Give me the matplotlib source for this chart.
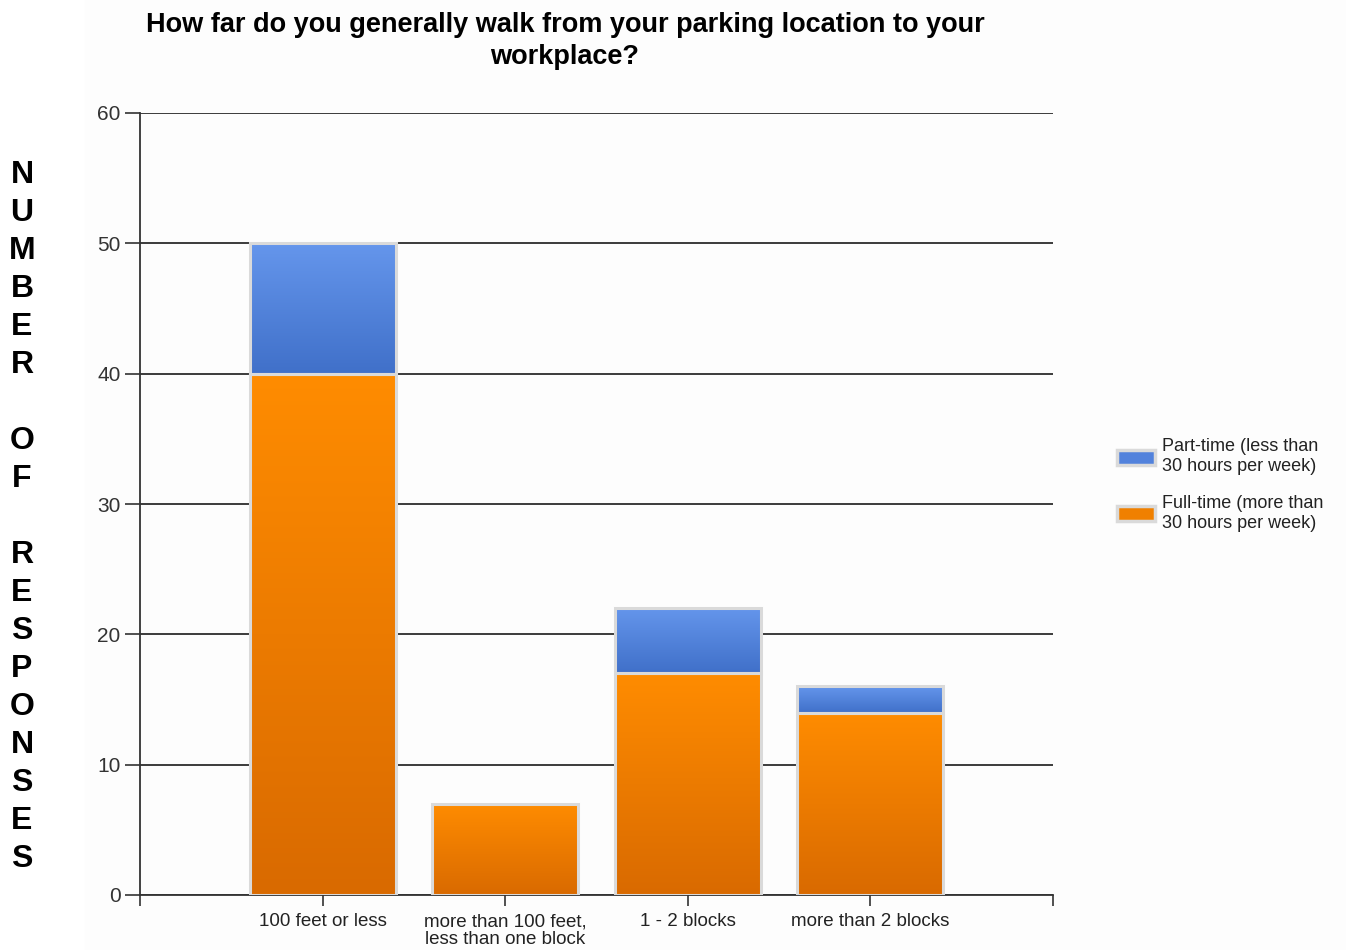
import numpy as np
import matplotlib.pyplot as plt
from matplotlib.colors import LinearSegmentedColormap
from matplotlib.patches import Patch, Rectangle

# data
CATEGORIES = ["100 feet or less", "more than 100 feet,\nless than one block",
              "1 - 2 blocks", "more than 2 blocks"]
FULL_TIME = [40, 7, 17, 14]
PART_TIME = [10, 0, 5, 2]
SERIES_NAMES = ["Part-time (less than\n30 hours per week)",
                "Full-time (more than\n30 hours per week)"]
YLABEL = "NUMBER OF RESPONSES"

plt.rcParams["font.family"] = ["Liberation Sans", "DejaVu Sans"]

ORANGE = ("#d96a00", "#ff8c00")   # bottom, top
BLUE = ("#4070c9", "#6596ec")
EDGE = "#dadada"

fig = plt.figure(figsize=(13.46, 9.5), dpi=100)
fig.patch.set_facecolor("white")
fig.patches.append(Rectangle((85 / 1346, 0), 1, 1, transform=fig.transFigure,
                             color="#fdfdfd", zorder=-10))

ax = fig.add_axes([140 / 1346, 1 - 895 / 950, 913 / 1346, 782 / 950])
ax.set_facecolor("none")

x = np.arange(len(CATEGORIES))
w = 0.8


def grad_bar(xc, bottom, height, cols):
    if height <= 0:
        return
    cmap = LinearSegmentedColormap.from_list("g", cols)
    g = np.linspace(0, 1, 256).reshape(-1, 1)
    ax.imshow(g, cmap=cmap, origin="lower", aspect="auto", zorder=2,
              extent=(xc - w / 2, xc + w / 2, bottom, bottom + height),
              interpolation="bilinear")


for xi, f, p in zip(x, FULL_TIME, PART_TIME):
    grad_bar(xi, 0, f, ORANGE)
    grad_bar(xi, f, p, BLUE)

ax.bar(x, FULL_TIME, width=w, color="none", edgecolor=EDGE, linewidth=2.2, zorder=3)
ax.bar(x, PART_TIME, bottom=FULL_TIME, width=w, color="none",
       edgecolor=[EDGE if v > 0 else "none" for v in PART_TIME],
       linewidth=2.2, zorder=3)

ax.set_xlim(-1, 4)
ax.set_ylim(0, 60)
ax.set_yticks(range(0, 61, 10))
ax.set_xticks(x)
ax.set_xticklabels(CATEGORIES, linespacing=1.05)
ax.set_xticks([-1, 4], minor=True)

ax.yaxis.grid(True, color="#1a1a1a", linewidth=1.2, zorder=0)
ax.set_axisbelow(True)
for s in ["top", "right"]:
    ax.spines[s].set_visible(False)
for s in ["left", "bottom"]:
    ax.spines[s].set_color("#333333")
    ax.spines[s].set_linewidth(1.3)

ax.tick_params(axis="y", labelsize=15, labelcolor="#333333", color="#333333",
               length=10.5, width=1.2, pad=3.5)
ax.tick_params(axis="x", labelsize=13.5, labelcolor="#222222", color="#333333",
               length=8, width=1.2, pad=5)
ax.tick_params(axis="x", which="minor", length=8, width=1.2, color="#333333")

fig.text(565 / 1346, 1 - 41 / 950,
         "How far do you generally walk from your parking location to your\nworkplace?",
         ha="center", va="center", fontsize=19.5, fontweight="bold",
         linespacing=1.3)

# vertical stacked letters for y label
y0 = 175
for i, ch in enumerate(YLABEL):
    if ch != " ":
        fig.text(22 / 1346, 1 - (y0 + 38 * i) / 950, ch, ha="center", va="center",
                 fontsize=23, fontweight="bold")

handles = [Patch(facecolor="#5282dc", edgecolor=EDGE, linewidth=2.5),
           Patch(facecolor="#f08000", edgecolor=EDGE, linewidth=2.5)]
fig.legend(handles, SERIES_NAMES, loc="center left",
           bbox_to_anchor=(1117 / 1346, 1 - 485 / 950), frameon=False,
           borderpad=0, borderaxespad=0,
           fontsize=13, handlelength=2.1, handleheight=0.9, handletextpad=0.4,
           labelspacing=1.1, labelcolor="#222222")

fig.savefig("out.png", dpi=100, facecolor=fig.get_facecolor())
plt.close(fig)
